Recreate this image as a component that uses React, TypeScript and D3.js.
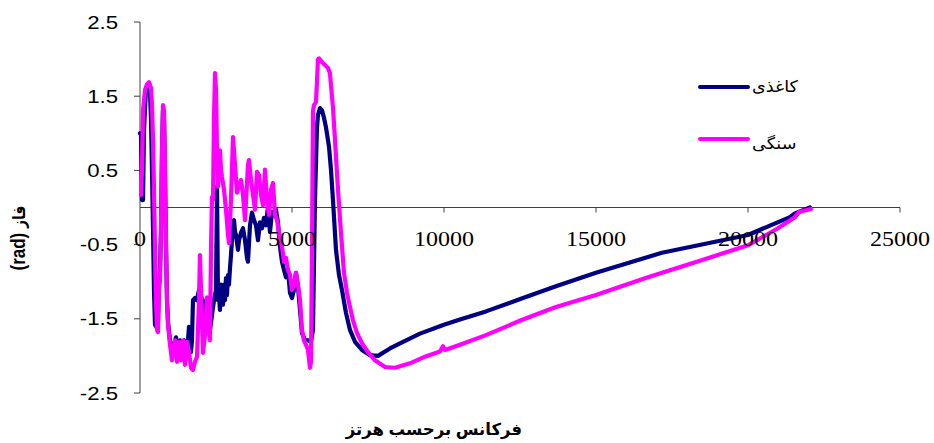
import React from "react";
import * as d3 from "d3";

const W = 934;
const H = 443;

const yTicks = [2.5, 1.5, 0.5, -0.5, -1.5, -2.5];
const xTicks = [0, 5000, 10000, 15000, 20000, 25000];

const seriesNames = ["کاغذی", "سنگی"];
const seriesColors = ["#000080", "#FF00FF"];

const xTitle = "فرکانس برحسب هرتز";
const yTitleUnit = "(rad) ";
const yTitleWord = "فاز";

const blueFreq = [0, 33, 66, 99, 132, 197, 263, 329, 362, 395, 428, 460, 493, 559, 592, 625, 658, 691, 724, 756, 789, 822, 855, 888, 921, 987, 1052, 1118, 1184, 1250, 1316, 1381, 1447, 1513, 1579, 1612, 1645, 1677, 1710, 1743, 1809, 1875, 1941, 1973, 2039, 2105, 2171, 2237, 2302, 2434, 2500, 2533, 2565, 2598, 2631, 2664, 2697, 2730, 2763, 2796, 2829, 2861, 2894, 2927, 2960, 2993, 3026, 3059, 3092, 3126, 3157, 3223, 3257, 3322, 3388, 3454, 3520, 3552, 3618, 3684, 3750, 3815, 3881, 3947, 4013, 4078, 4144, 4210, 4276, 4342, 4407, 4473, 4539, 4605, 4671, 4736, 4802, 4868, 4934, 5000, 5065, 5131, 5197, 5263, 5328, 5427, 5526, 5625, 5690, 5756, 5789, 5822, 5855, 5921, 5987, 6052, 6118, 6217, 6282, 6348, 6447, 6546, 6644, 6776, 6907, 7072, 7302, 7565, 7828, 8223, 8552, 9209, 9999, 10525, 11380, 12531, 13682, 14998, 17169, 19997, 21380, 21543, 22036];
const bluePhase = [1.0, 0.98, 0.1, 0.1, 1.04, 1.61, 1.66, 1.56, 1.18, 0.51, -0.3, -1.11, -1.58, -1.62, -1.52, -1.04, -0.84, -0.3, 0.77, 1.31, 1.25, 0.44, -0.51, -1.25, -1.54, -1.79, -1.95, -1.85, -1.75, -1.95, -1.79, -1.89, -1.79, -1.92, -1.79, -1.61, -1.65, -1.95, -1.79, -1.25, -1.22, -1.25, -1.11, -1.11, -1.25, -1.52, -1.25, -1.45, -1.65, -1.25, -1.11, 0.28, -1.25, -1.18, -1.38, -1.04, -1.11, -1.31, -1.04, -1.25, -0.95, -1.18, -0.91, -1.04, -0.82, -0.64, -0.44, -0.2, -0.17, -0.33, -0.37, -0.57, -0.44, -0.34, -0.28, -0.44, -0.68, -0.73, -0.24, -0.07, -0.17, -0.24, -0.44, -0.2, -0.28, -0.14, -0.24, 0.01, -0.33, -0.06, -0.1, -0.03, -0.2, -0.53, -0.73, -0.84, -0.94, -0.84, -1.15, -1.22, -1.11, -0.88, -1.07, -1.38, -1.69, -1.79, -1.79, -1.81, -1.65, 0.1, 0.6, 1.08, 1.25, 1.34, 1.31, 1.21, 1.08, 0.82, 0.51, 0.1, -0.57, -0.91, -1.11, -1.42, -1.65, -1.81, -1.92, -1.99, -2.0, -1.9, -1.83, -1.7, -1.58, -1.51, -1.4, -1.23, -1.06, -0.88, -0.61, -0.37, -0.13, -0.08, 0.0];

const pinkFreq = [33, 66, 99, 164, 230, 296, 362, 395, 428, 460, 493, 526, 559, 592, 625, 658, 691, 724, 756, 789, 822, 855, 888, 921, 987, 1052, 1085, 1151, 1217, 1283, 1349, 1414, 1480, 1546, 1612, 1677, 1743, 1809, 1875, 1941, 1973, 2006, 2072, 2138, 2204, 2269, 2302, 2335, 2368, 2401, 2434, 2467, 2500, 2533, 2565, 2598, 2631, 2664, 2697, 2763, 2829, 2894, 2927, 2993, 3059, 3126, 3190, 3257, 3322, 3388, 3454, 3552, 3585, 3651, 3717, 3783, 3848, 3914, 3980, 4046, 4111, 4177, 4243, 4309, 4375, 4440, 4506, 4572, 4671, 4736, 4802, 4868, 4934, 5000, 5065, 5131, 5197, 5263, 5328, 5394, 5460, 5526, 5592, 5625, 5658, 5690, 5723, 5789, 5822, 5855, 5888, 5987, 6085, 6184, 6249, 6282, 6348, 6414, 6513, 6611, 6710, 6809, 6907, 7006, 7137, 7302, 7500, 7730, 8058, 8387, 8881, 9374, 9867, 9966, 10032, 10525, 11380, 12531, 13682, 14998, 16708, 18319, 19997, 20984, 21543, 21674, 22069];
const pinkPhase = [0.17, 0.51, 1.31, 1.58, 1.66, 1.69, 1.61, 1.38, 0.91, 0.24, -0.57, -1.25, -1.65, -1.68, -1.11, -0.98, -0.3, 0.77, 1.38, 1.31, 0.51, -0.44, -1.25, -1.58, -1.85, -2.06, -1.92, -1.79, -2.08, -1.81, -2.06, -1.79, -2.12, -1.81, -1.95, -2.16, -2.19, -2.08, -2.01, -1.25, -0.64, -1.11, -1.96, -1.72, -1.21, -1.65, -1.79, -0.57, 0.14, 0.1, 1.18, 1.81, 1.58, 0.77, 0.28, 0.51, 0.77, 0.51, 0.41, 0.24, -0.03, -0.37, -0.48, 0.1, 0.95, 0.57, 0.2, 0.3, 0.37, 0.17, -0.17, 0.57, 0.64, 0.37, 0.17, -0.03, 0.48, 0.44, 0.17, 0.03, 0.51, 0.1, -0.1, 0.24, 0.33, -0.1, -0.17, -0.34, -0.53, -0.73, -0.68, -0.84, -0.91, -1.11, -1.04, -0.88, -1.04, -1.25, -1.65, -1.79, -1.85, -1.92, -2.16, -2.08, -0.57, 1.3, 1.38, 1.42, 1.7, 2.0, 2.01, 1.96, 1.92, 1.88, 1.81, 1.65, 1.35, 0.91, 0.24, -0.34, -0.88, -1.15, -1.34, -1.52, -1.69, -1.83, -1.95, -2.06, -2.15, -2.16, -2.1, -2.01, -1.94, -1.87, -1.92, -1.85, -1.72, -1.52, -1.34, -1.18, -0.94, -0.73, -0.51, -0.28, -0.13, -0.06, -0.02];

const SANS = "Arial, 'Liberation Sans', 'DejaVu Sans', sans-serif";
const SERIF = "'Times New Roman', 'Liberation Serif', serif";
const STRETCH = 1.2;

export default function App() {
  const x = d3.scaleLinear().domain([0, 25000]).range([140, 900]);
  const y = d3.scaleLinear().domain([-2.5, 2.5]).range([393, 22]);

  const line = d3
    .line<[number, number]>()
    .x((d) => x(d[0]))
    .y((d) => y(d[1]));

  const blue: [number, number][] = blueFreq.map((f, i) => [f, bluePhase[i]]);
  const pink: [number, number][] = pinkFreq.map((f, i) => [f, pinkPhase[i]]);
  const series = [blue, pink];

  const axisColor = "#404040";
  const y0 = y(0);

  return (
    <svg
      width={W}
      height={H}
      style={{ position: "absolute", left: 0, top: 0, background: "#fff" }}
    >
      <rect x={0} y={0} width={W} height={H} fill="#fff" />
      {/* Y axis */}
      <line x1={x(0)} x2={x(0)} y1={y(2.5)} y2={y(-2.5)} stroke={axisColor} strokeWidth={1} />
      {yTicks.map((t) => (
        <g key={t}>
          <line x1={x(0) - 6} x2={x(0)} y1={y(t)} y2={y(t)} stroke={axisColor} strokeWidth={1} />
          <text
            transform={`translate(118,${y(t) + 6.5}) scale(${STRETCH},1)`}
            textAnchor="end"
            fontFamily={SANS}
            fontSize={18.5}
            fill="#000"
          >
            {t.toFixed(1)}
          </text>
        </g>
      ))}
      {/* X axis at y = 0 */}
      <line x1={x(0)} x2={x(25000)} y1={y0} y2={y0} stroke={axisColor} strokeWidth={1} />
      {xTicks.map((t) => (
        <g key={t}>
          {t > 0 && (
            <line x1={x(t)} x2={x(t)} y1={y0} y2={y0 + 5} stroke={axisColor} strokeWidth={1} />
          )}
        </g>
      ))}
      {/* series */}
      {series.map((s, i) => (
        <path
          key={i}
          d={line(s) || ""}
          fill="none"
          stroke={seriesColors[i]}
          strokeWidth={4.2}
          strokeLinejoin="round"
          strokeLinecap="round"
        />
      ))}
      {xTicks.map((t) => (
        <text
          key={t}
          transform={`translate(${x(t)},246) scale(${STRETCH},1)`}
          textAnchor="middle"
          fontFamily={SERIF}
          fontSize={20}
          fill="#000"
        >
          {t}
        </text>
      ))}
      {/* legend */}
      {seriesNames.map((n, i) => (
        <g key={n}>
          <line
            x1={700}
            x2={748}
            y1={87 + i * 52}
            y2={87 + i * 52}
            stroke={seriesColors[i]}
            strokeWidth={4}
            strokeLinecap="round"
          />
          <text
            transform={`translate(752,${i === 0 ? 92 : 149}) scale(1.1,1)`}
            textAnchor="start"
            fontFamily={SANS}
            fontSize={16}
            fill="#000"
          >
            {n}
          </text>
        </g>
      ))}
      {/* axis titles */}
      <text
        x={434}
        y={435}
        textAnchor="middle"
        fontFamily={SANS}
        fontWeight="bold"
        fontSize={16.5}
        fill="#000"
      >
        {xTitle}
      </text>
      <text
        transform={`translate(25,238) scale(${STRETCH},1) rotate(-90)`}
        textAnchor="middle"
        fontFamily={SANS}
        fontWeight="bold"
        fill="#000"
      >
        <tspan fontSize={17}>{yTitleUnit}</tspan>
        <tspan fontSize={14}>{yTitleWord}</tspan>
      </text>
    </svg>
  );
}
